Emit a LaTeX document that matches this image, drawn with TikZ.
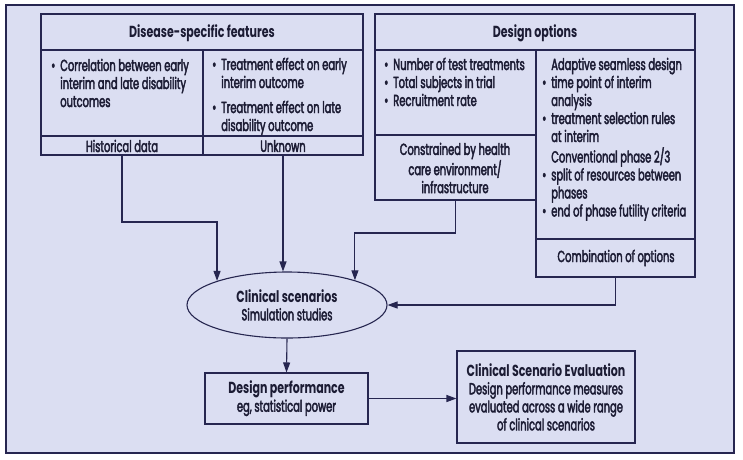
\documentclass[tikz,border=0pt]{standalone}
\usepackage{fontspec}
\setmainfont{Poppins}[FakeStretch=0.62,UprightFeatures={FakeBold=2.5},BoldFeatures={FakeStretch=0.69}]
\usetikzlibrary{arrows.meta,shapes.geometric,calc}
\definecolor{bg}{RGB}{219,222,242}
\definecolor{ln}{RGB}{38,38,80}
\definecolor{tx}{RGB}{28,28,52}
\newcommand{\bitems}[1]{\begin{tabular}[t]{@{}l@{\hspace{5pt}}l@{}}#1\end{tabular}}
\newcommand{\bu}{\textbullet}
\begin{document}
\begin{tikzpicture}[x=1pt,y=-1pt,
  every node/.style={text=tx,font=\fontsize{16}{18}\selectfont},
  box/.style={draw=ln,line width=1.1pt,rectangle,anchor=north west,inner sep=0pt,outer sep=0pt},
  hd/.style={font=\fontsize{16}{18}\selectfont\bfseries},
  txt/.style={inner sep=0pt,anchor=base west},
  ctr/.style={inner sep=0pt,align=center},
  arr/.style={draw=ln,line width=1.1pt,-{Triangle[length=10pt,width=7pt]}},
  con/.style={draw=ln,line width=1.1pt}]
\useasboundingbox (0,0) rectangle (743,459);
\fill[white] (0,0) rectangle (743,459);
\node[draw=ln,line width=1.6pt,fill=bg,anchor=north west,inner sep=0pt,minimum width=728pt,minimum height=448pt] (frame) at (5,4) {};
% Disease-specific features
\node[box,minimum width=322pt,minimum height=36pt] (dhead) at (41,14) {};
\node[hd] (dheadt) at (202,33) {Disease-specific features};
\node[box,minimum width=162pt,minimum height=86pt] (dl) at (41,50) {};
\node[box,minimum width=160pt,minimum height=86pt] (dr) at (203,50) {};
\node[box,minimum width=162pt,minimum height=19pt] (hist) at (41,136) {};
\node[box,minimum width=160pt,minimum height=19pt] (unk) at (203,136) {};
\node[ctr] (histt) at (122,146) {Historical data};
\node[ctr] (unkt) at (283,146) {Unknown};
\node[txt] (dlt) at (51,71) {\bitems{\bu & Correlation between early\\ & interim and late disability\\ & outcomes}};
\node[txt] (drt) at (212,70) {\bitems{\bu & Treatment effect on early\\ & interim outcome\\[7pt] \bu & Treatment effect on late\\ & disability outcome}};
% Design options
\node[box,minimum width=320pt,minimum height=36pt] (ohead) at (375,14) {};
\node[hd] (oheadt) at (535,33) {Design options};
\node[box,minimum width=161pt,minimum height=85pt] (ol) at (375,50) {};
\node[box,minimum width=161pt,minimum height=65pt] (cons) at (375,135) {};
\node[ctr] (const) at (455,168) {Constrained by health\\care environment/\\infrastructure};
\node[box,minimum width=159pt,minimum height=189pt] (or) at (536,50) {};
\node[box,minimum width=159pt,minimum height=38pt] (comb) at (536,239) {};
\node[ctr] (combt) at (616,258) {Combination of options};
\node[txt] (olt) at (384,70) {\bitems{\bu & Number of test treatments\\ \bu & Total subjects in trial\\ \bu & Recruitment rate}};
\node[txt] (ort) at (542,70) {\bitems{ & Adaptive seamless design\\ \bu & time point of interim\\ & analysis\\ \bu & treatment selection rules\\ & at interim\\ & Conventional phase 2/3\\ \bu & split of resources between\\ & phases\\ \bu & end of phase futility criteria}};
% Clinical scenarios
\node[ellipse,draw=ln,line width=1.1pt,minimum width=200pt,minimum height=66pt,inner sep=0pt,align=center] (cs) at (287,305) {{\bfseries Clinical scenarios}\\Simulation studies};
\node[draw=ln,line width=1.1pt,minimum width=163pt,minimum height=51pt,inner sep=0pt,align=center] (dp) at (286.5,398.5) {{\bfseries Design performance}\\eg, statistical power};
\node[draw=ln,line width=1.1pt,minimum width=178pt,minimum height=92pt,inner sep=0pt,align=center] (cse) at (546,397) {{\bfseries Clinical Scenario Evaluation}\\Design performance measures\\evaluated across a wide range\\of clinical scenarios};
% connectors
\coordinate (j1) at (0,222);
\coordinate (j2) at (0,233);
\draw[arr] (hist.south) |- (j1 -| cs.161) -- (cs.161);
\draw[arr] (unk.south) -- (unk.south |- cs.north);
\draw[arr] (cons.south) |- (j2 -| cs.20) -- (cs.20);
\draw[arr] (comb.south) |- (cs.east);
\draw[arr] (cs.south) -- (dp.north);
\draw[arr] (dp.east) -- (dp.east -| cse.west);
\end{tikzpicture}
\end{document}
